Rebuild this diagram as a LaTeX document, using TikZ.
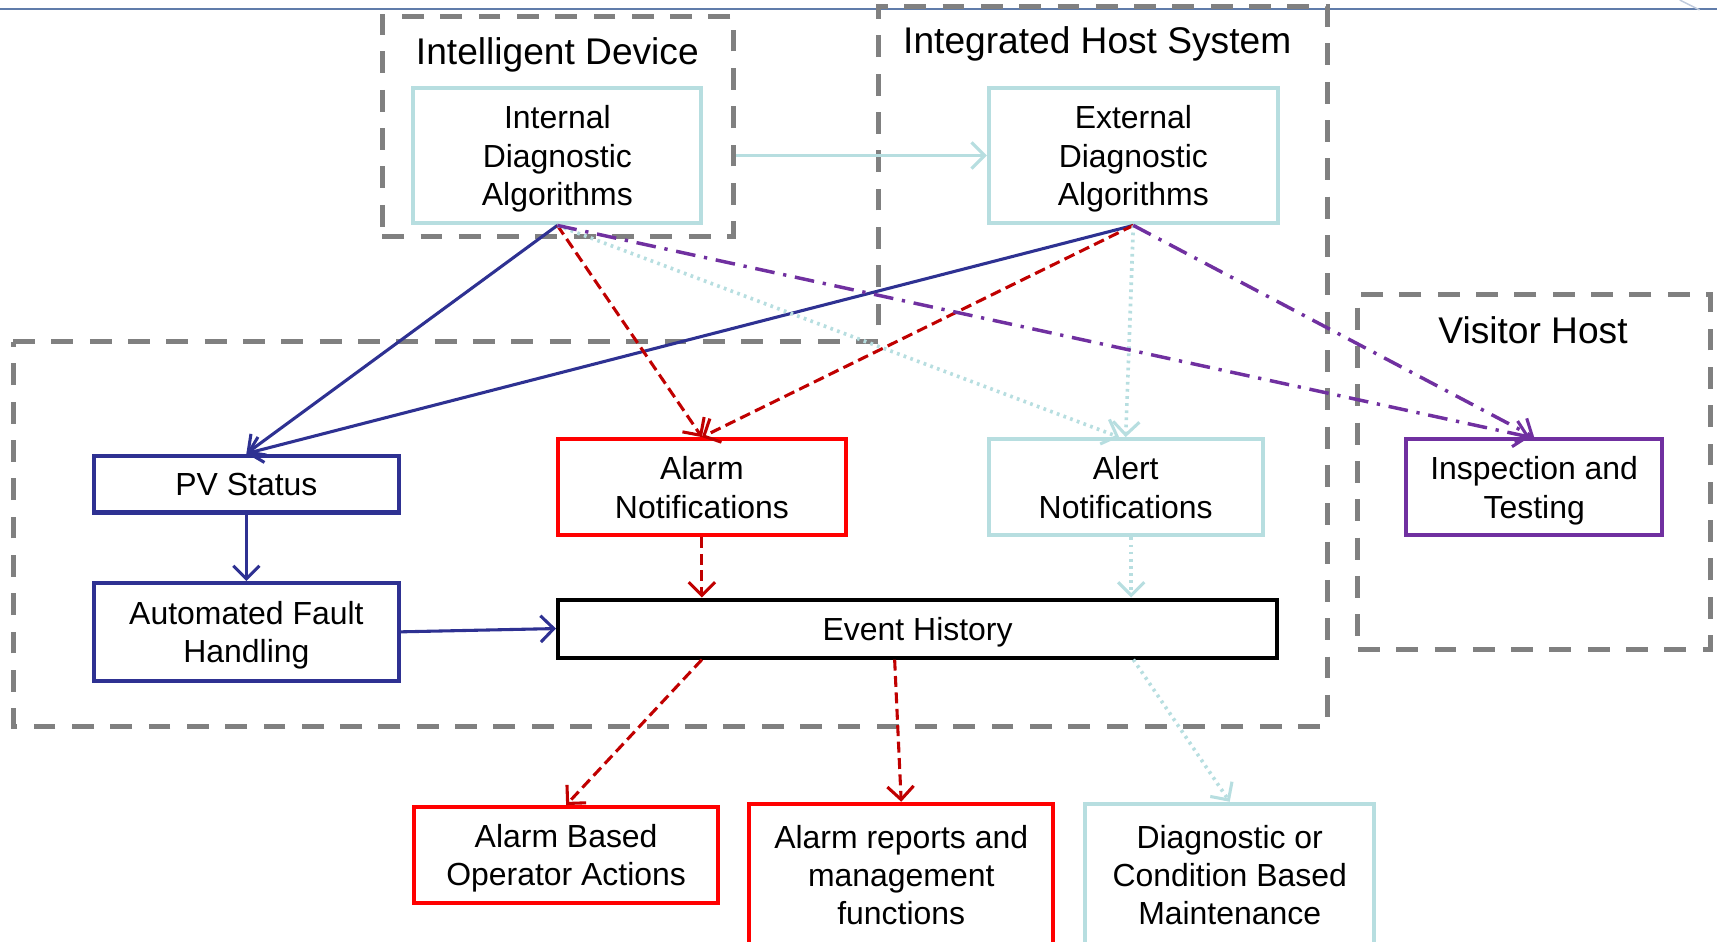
\documentclass[tikz,border=0pt]{standalone}
\usepackage{fontspec}
\setmainfont{Liberation Sans}
\usetikzlibrary{calc,arrows.meta}

\definecolor{navyline}{RGB}{46,49,146}
\definecolor{alarmred}{RGB}{255,0,0}
\definecolor{darkred}{RGB}{192,0,0}
\definecolor{paleteal}{RGB}{183,222,224}
\definecolor{purpleline}{RGB}{112,48,160}
\definecolor{groupgray}{RGB}{128,128,128}
\definecolor{slideblue}{RGB}{96,124,170}

\begin{document}
\begin{tikzpicture}[x=0.02cm,y=-0.02cm,
                font=\fontsize{16.6}{19.9}\selectfont,
                box/.style={rectangle,draw,line width=2.1pt,align=center,inner sep=0pt,text depth=0pt},
                group/.style={draw=groupgray,line width=2.6pt,dash pattern=on 0.4cm off 0.3cm},
                title/.style={font=\fontsize{19.3}{23}\selectfont},
                link/.style={line width=1.6pt,-{Straight Barb[length=0.24cm,width=0.48cm,line width=1.6pt]}},
                navy link/.style={link,draw=navyline},
                red link/.style={link,draw=darkred,dash pattern=on 0.2cm off 0.1cm},
                teal link/.style={link,line width=1.9pt,draw=paleteal,dash pattern=on 0.05cm off 0.08cm},
                purple link/.style={link,line width=1.8pt,draw=purpleline,dash pattern=on 0.36cm off 0.16cm on 0.06cm off 0.16cm}]
	\useasboundingbox (0,0) rectangle (1568,860);
	\draw[slideblue,line width=0.8pt] (0,8) -- (1568,8);
	\draw[slideblue!40,line width=0.8pt] (1534,0) -- (1552,9);

	% groups
	\node[group,minimum width=6.42cm,minimum height=4.02cm] (intdev) at (509.5,115.5) {};
	\draw[group] (12,312) -- (802,312) -- (802,6) -- (1212,6) -- (1212,663) -- (12,663) -- cycle;
	\node[group,minimum width=6.44cm,minimum height=6.48cm] (visitor) at (1401,431) {};
	\node[title] (intdevtitle) at (509,50) {Intelligent Device};
	\node[title] (hosttitle) at (1002,40) {Integrated Host System};
	\node[title] (visitortitle) at (1400,302) {Visitor Host};

	% boxes
	\node[box,draw=paleteal,minimum width=5.26cm,minimum height=2.48cm] (intdiag) at (509,142) {Internal\\Diagnostic\\Algorithms};
	\node[box,draw=paleteal,minimum width=5.28cm,minimum height=2.48cm] (extdiag) at (1035,142) {External\\Diagnostic\\Algorithms};
	\node[box,draw=navyline,minimum width=5.56cm,minimum height=1.04cm] (pvstatus) at (225,442) {PV Status};
	\node[box,draw=navyline,minimum width=5.56cm,minimum height=1.78cm] (afh) at (225,577) {Automated Fault\\Handling};
	\node[box,draw=alarmred,minimum width=5.26cm,minimum height=1.76cm] (alarm) at (641,445) {Alarm\\Notifications};
	\node[box,draw=paleteal,minimum width=5.0cm,minimum height=1.76cm] (alert) at (1028,445) {Alert\\Notifications};
	\node[box,draw=purpleline,minimum width=4.68cm,minimum height=1.76cm] (inspect) at (1401,445) {Inspection and\\Testing};
	\node[box,draw=black,minimum width=13.14cm,minimum height=1.06cm] (event) at (838,574) {Event History};
	\node[box,draw=alarmred,minimum width=5.56cm,minimum height=1.76cm] (opact) at (517,781) {Alarm Based\\Operator Actions};
	\node[box,draw=alarmred,minimum width=5.56cm,minimum height=2.6cm] (reports) at (823,799) {Alarm reports and\\management\\functions};
	\node[box,draw=paleteal,minimum width=5.28cm,minimum height=2.6cm] (maint) at (1123,799) {Diagnostic or\\Condition Based\\Maintenance};

	\path
	(intdev.east |- intdiag.east) edge[link,draw=paleteal] (extdiag.west)
	(intdiag.south) edge[navy link] (pvstatus.north)
	(extdiag.south) edge[navy link] (pvstatus.north)
	(intdiag.south) edge[red link] (alarm.north)
	(extdiag.south) edge[red link] (alarm.north)
	(intdiag.south) edge[teal link] ($(alert.north)+(-6,0)$)
	(extdiag.south) edge[teal link] (alert.north)
	(intdiag.south) edge[purple link] ($(inspect.north)+(-4,0)$)
	(extdiag.south) edge[purple link] (inspect.north)
	(pvstatus.south) edge[navy link] (afh.north)
	(afh.east) edge[navy link] (event.west)
	(alarm.south) edge[red link] (alarm.south |- event.north)
	($(alert.south)+(5,0)$) edge[teal link] ($(alert.south |- event.north)+(5,0)$)
	(alarm.south |- event.south) edge[red link] (opact.north)
	($(event.south)+(-21,0)$) edge[red link] (reports.north)
	(extdiag.south |- event.south) edge[teal link] (maint.north);

\end{tikzpicture}
\end{document}
